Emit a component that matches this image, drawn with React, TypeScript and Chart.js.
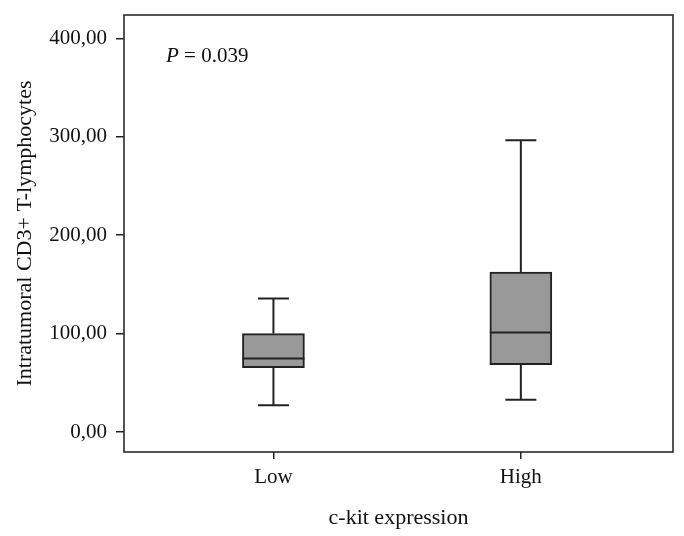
import React, { useEffect, useRef } from "react";
import { Chart, registerables } from "chart.js";

Chart.register(...registerables);

const categories = ["Low", "High"];
const positions = [1, 2];
const whiskerLow = [27.1, 32.9];
const q1 = [65.4, 68.5];
const median = [74.6, 101.0];
const q3 = [100.0, 162.6];
const whiskerHigh = [135.6, 296.4];
const yTicks = [0, 100, 200, 300, 400];
const pLabel = "0.039";

const FONT = "'Liberation Serif', 'DejaVu Serif', serif";
const TEXT = "#111111";
const LINE = "#222222";

const boxPlugin = {
  id: "boxExtras",
  afterDatasetsDraw(chart: any) {
    const { ctx, chartArea, scales } = chart;
    const xs = scales.x;
    const ys = scales.y;
    ctx.save();
    ctx.strokeStyle = LINE;
    ctx.lineWidth = 2;
    positions.forEach((p, i) => {
      const cx = xs.getPixelForValue(p);
      const halfBox = 31;
      const halfCap = 15.5;
      const yLo = ys.getPixelForValue(whiskerLow[i]);
      const yQ1 = ys.getPixelForValue(q1[i]);
      const yQ3 = ys.getPixelForValue(q3[i]);
      const yHi = ys.getPixelForValue(whiskerHigh[i]);
      const yMed = ys.getPixelForValue(median[i]);
      ctx.beginPath();
      ctx.moveTo(cx, yQ3);
      ctx.lineTo(cx, yHi);
      ctx.moveTo(cx - halfCap, yHi);
      ctx.lineTo(cx + halfCap, yHi);
      ctx.moveTo(cx, yQ1);
      ctx.lineTo(cx, yLo);
      ctx.moveTo(cx - halfCap, yLo);
      ctx.lineTo(cx + halfCap, yLo);
      ctx.stroke();
      ctx.beginPath();
      ctx.moveTo(cx - halfBox, yMed);
      ctx.lineTo(cx + halfBox, yMed);
      ctx.stroke();
    });
    // frame
    ctx.lineWidth = 1.6;
    ctx.strokeStyle = "#2a2a2a";
    ctx.strokeRect(chartArea.left, chartArea.top, chartArea.right - chartArea.left, chartArea.bottom - chartArea.top);
    // P value annotation
    ctx.fillStyle = TEXT;
    ctx.textBaseline = "middle";
    ctx.textAlign = "left";
    const tx = chartArea.left + 42;
    const ty = chartArea.top + 41;
    ctx.font = `italic 21px ${FONT}`;
    ctx.fillText("P", tx, ty);
    const w = ctx.measureText("P").width;
    ctx.font = `21px ${FONT}`;
    ctx.fillText(" = " + pLabel, tx + w, ty);
    ctx.restore();
  },
};

export default function App() {
  const ref = useRef<HTMLCanvasElement | null>(null);
  useEffect(() => {
    if (!ref.current) return;
    const chart = new Chart(ref.current, {
      type: "bar",
      data: {
        datasets: [
          {
            data: positions.map((p, i) => ({ x: p, y: [q1[i], q3[i]] })) as any,
            backgroundColor: "#999999",
            borderColor: LINE,
            borderWidth: 2,
            borderSkipped: false,
            barThickness: 62,
          },
        ],
      },
      options: {
        animation: false,
        responsive: true,
        maintainAspectRatio: false,
        layout: { padding: { top: 15, right: 11, left: 0, bottom: 0 } },
        plugins: { legend: { display: false }, tooltip: { enabled: false } },
        scales: {
          x: {
            type: "linear",
            offset: false,
            min: 0.396,
            max: 2.615,
            afterBuildTicks: (s: any) => {
              s.ticks = positions.map((v) => ({ value: v }));
            },
            afterFit: (s: any) => {
              s.height = 84;
              s.paddingLeft = 0;
              s.paddingRight = 0;
            },
            ticks: {
              callback: (v: any) => {
                const i = positions.indexOf(Number(v));
                return i >= 0 ? categories[i] : "";
              },
              font: { family: FONT, size: 21 },
              color: TEXT,
              padding: 6,
              maxRotation: 0,
              autoSkip: false,
            },
            grid: { offset: false, drawOnChartArea: false, drawTicks: true, tickLength: 7, color: LINE, lineWidth: 1.5 },
            border: { display: false },
            title: {
              display: true,
              text: "c-kit expression",
              font: { family: FONT, size: 22 },
              color: TEXT,
              padding: { top: 0, bottom: 5 },
            },
          },
          y: {
            type: "linear",
            min: -20.3,
            max: 423.7,
            afterBuildTicks: (s: any) => {
              s.ticks = yTicks.map((v) => ({ value: v }));
            },
            afterFit: (s: any) => {
              s.width = 124;
              s.paddingTop = 0;
              s.paddingBottom = 0;
            },
            ticks: {
              callback: (v: any) => Number(v).toFixed(2).replace(".", ","),
              font: { family: FONT, size: 21 },
              color: TEXT,
              padding: 9,
            },
            grid: { drawOnChartArea: false, drawTicks: true, tickLength: 8, color: LINE, lineWidth: 1.5 },
            border: { display: false },
            title: {
              display: true,
              text: "Intratumoral CD3+ T-lymphocytes",
              font: { family: FONT, size: 22 },
              color: TEXT,
              padding: { top: 12, bottom: 0 },
            },
          },
        },
      },
      plugins: [boxPlugin],
    });
    return () => chart.destroy();
  }, []);
  return (
    <div style={{ position: "fixed", left: 0, top: 0, width: 684, height: 536, background: "#fff" }}>
      <canvas ref={ref} />
    </div>
  );
}
